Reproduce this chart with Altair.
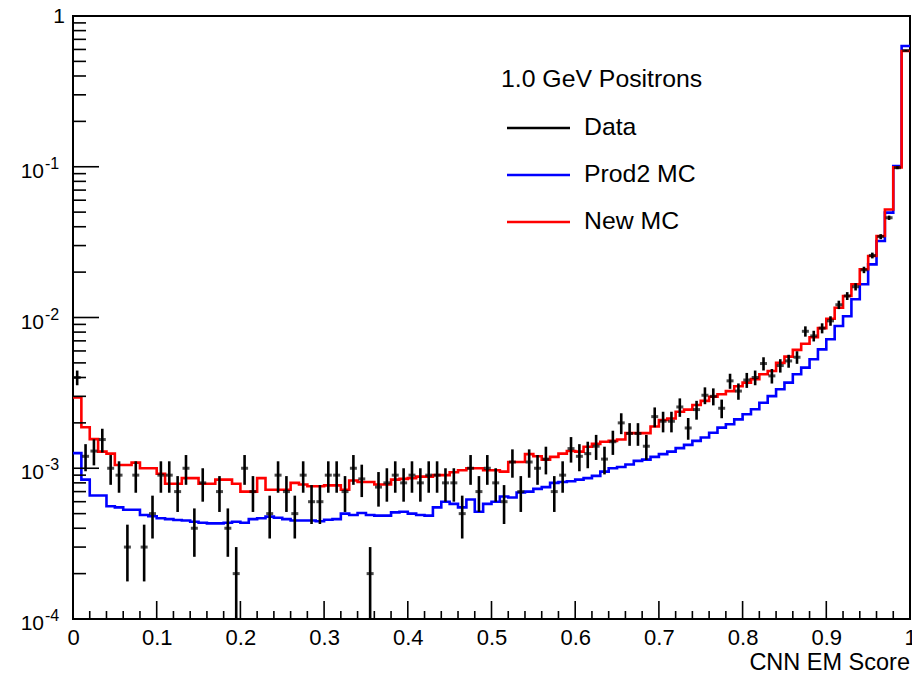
import altair as alt
import pandas as pd

# ---- histogram contents (100 bins on [0, 1]) ----
N_EVENTS = 20000
N_BINS = 100

# beam data: raw counts per bin (area-normalised by N_EVENTS)
data_counts = [
    80, 24, 26, 31, 20, 18, 6, 18, 6, 10,
    18, 18, 14, 20, 8, 16, 0, 14, 8, 4,
    20, 14, 0, 10, 18, 14, 10, 18, 12, 12,
    18, 18, 14, 20, 17, 4, 15, 16, 18, 16,
    18, 16, 18, 18, 16, 16, 10, 20, 14, 20,
    16, 12, 22, 14, 22, 20, 23, 14, 18, 27,
    24, 25, 28, 23, 30, 40, 34, 34, 28, 44,
    41, 41, 51, 37, 49, 61, 60, 50, 76, 65,
    77, 80, 99, 82, 96, 103, 109, 162, 151, 170,
    190, 243, 278, 320, 414, 516, 688, 918, 1972, 11800,
]

prod2_mc = [
    1.26e-3, 8.4e-4, 6.6e-4, 6.6e-4, 5.6e-4, 5.5e-4, 5.3e-4, 5.3e-4, 4.9e-4, 4.8e-4,
    4.66e-4, 4.6e-4, 4.54e-4, 4.5e-4, 4.42e-4, 4.35e-4, 4.31e-4, 4.31e-4, 4.35e-4, 4.42e-4,
    4.35e-4, 4.6e-4, 4.66e-4, 4.78e-4, 4.7e-4, 4.6e-4, 4.5e-4, 4.5e-4, 4.5e-4, 4.45e-4,
    4.55e-4, 4.6e-4, 5.0e-4, 4.9e-4, 5.05e-4, 4.9e-4, 4.85e-4, 4.85e-4, 5.1e-4, 5.15e-4,
    5.0e-4, 4.9e-4, 4.85e-4, 5.5e-4, 6.0e-4, 5.8e-4, 5.5e-4, 6.2e-4, 5.15e-4, 5.8e-4,
    6.0e-4, 6.5e-4, 6.4e-4, 6.9e-4, 7.0e-4, 7.3e-4, 7.5e-4, 8.0e-4, 8.1e-4, 8.2e-4,
    8.4e-4, 8.6e-4, 8.9e-4, 9.5e-4, 1.0e-3, 1.02e-3, 1.06e-3, 1.12e-3, 1.14e-3, 1.19e-3,
    1.24e-3, 1.29e-3, 1.36e-3, 1.43e-3, 1.52e-3, 1.60e-3, 1.72e-3, 1.86e-3, 1.96e-3, 2.11e-3,
    2.28e-3, 2.46e-3, 2.72e-3, 3.01e-3, 3.34e-3, 3.70e-3, 4.20e-3, 4.65e-3, 5.28e-3, 6.15e-3,
    7.17e-3, 8.79e-3, 1.02e-2, 1.32e-2, 1.66e-2, 2.25e-2, 3.22e-2, 4.96e-2, 0.101, 0.632,
]

new_mc = [
    2.95e-3, 1.87e-3, 1.56e-3, 1.29e-3, 1.25e-3, 1.05e-3, 1.05e-3, 1.09e-3, 1.0e-3, 1.0e-3,
    9.2e-4, 7.9e-4, 7.9e-4, 8.6e-4, 8.6e-4, 7.9e-4, 7.9e-4, 8.4e-4, 8.4e-4, 7.9e-4,
    7.0e-4, 7.0e-4, 8.6e-4, 7.2e-4, 7.2e-4, 7.2e-4, 8.0e-4, 7.8e-4, 7.6e-4, 7.6e-4,
    7.7e-4, 7.7e-4, 7.2e-4, 8.3e-4, 8.1e-4, 8.1e-4, 7.8e-4, 7.8e-4, 8.4e-4, 8.5e-4,
    8.6e-4, 8.8e-4, 8.8e-4, 9.0e-4, 9.0e-4, 9.4e-4, 9.7e-4, 1.0e-3, 1.0e-3, 9.7e-4,
    9.7e-4, 9.5e-4, 1.10e-3, 1.10e-3, 1.24e-3, 1.20e-3, 1.14e-3, 1.19e-3, 1.25e-3, 1.30e-3,
    1.29e-3, 1.39e-3, 1.45e-3, 1.50e-3, 1.52e-3, 1.55e-3, 1.71e-3, 1.71e-3, 1.71e-3, 1.89e-3,
    2.09e-3, 2.14e-3, 2.37e-3, 2.45e-3, 2.63e-3, 2.80e-3, 2.98e-3, 3.1e-3, 3.25e-3, 3.5e-3,
    3.7e-3, 3.9e-3, 4.2e-3, 4.42e-3, 5.0e-3, 5.5e-3, 6.1e-3, 6.7e-3, 7.4e-3, 8.5e-3,
    9.8e-3, 1.16e-2, 1.39e-2, 1.66e-2, 2.09e-2, 2.56e-2, 3.47e-2, 5.2e-2, 9.9e-2, 0.586,
]

# ---- axis and legend text ----
x_major = [0, 0.1, 0.2, 0.3, 0.4, 0.5, 0.6, 0.7, 0.8, 0.9, 1]
x_minor = [round(i * 0.02, 2) for i in range(51) if i % 5]
y_exponents = [-1, -2, -3, -4]
y_minor = [m * 10.0 ** e for e in (-4, -3, -2, -1) for m in range(2, 10)]
x_title = "CNN EM Score"
legend_title = "1.0 GeV Positrons"
series_names = ["Data", "Prod2 MC", "New MC"]
series_colors = ["#000000", "#0000ff", "#ff0000"]

W, H = 837, 603
FONT = "Liberation Sans"

xscale = alt.Scale(domain=[0, 1], nice=False, zero=False)
yscale = alt.Scale(type="log", domain=[1e-4, 1], nice=False)
xaxis = alt.Axis(values=x_major, format="~g", ticks=False, domain=False, grid=False,
                 labelFontSize=22, labelFont=FONT, labelColor="black", labelPadding=8,
                 labelFlush=False, labelOverlap=False, labelBound=False, title=None)


def xq(field):
    return alt.X(field, type="quantitative", scale=xscale, axis=xaxis)


def yq(field):
    return alt.Y(field, type="quantitative", scale=yscale, axis=None)


# ---- step histograms ----
edges = [i / N_BINS for i in range(N_BINS + 1)]
centers = [(i + 0.5) / N_BINS for i in range(N_BINS)]


def step_layer(values, color):
    df = pd.DataFrame({"x": edges, "y": list(values) + [values[-1]]})
    return alt.Chart(df).mark_line(interpolate="step-after", color=color,
                                   strokeWidth=2.6, clip=True).encode(x=xq("x"), y=yq("y"))


blue = step_layer(prod2_mc, series_colors[1])
red = step_layer(new_mc, series_colors[2])

# ---- data points with Poisson errors ----
pts = pd.DataFrame({"c": centers, "k": data_counts})
pts = pts[pts.k > 0].copy()
pts["v"] = pts.k / N_EVENTS
pts["lo"] = (pts.k - pts.k ** 0.5) / N_EVENTS
pts["hi"] = (pts.k + pts.k ** 0.5) / N_EVENTS

err = alt.Chart(pts).mark_rule(color="black", strokeWidth=2.6, clip=True).encode(
    x=xq("c"), y=yq("lo"), y2="hi")
mark = alt.Chart(pts).mark_tick(orient="horizontal", size=7, thickness=3,
                                color="black").encode(x=xq("c"), y=yq("v"))

# ---- inward ticks ----
xmaj = alt.Chart(pd.DataFrame({"t": x_major})).mark_rule(color="black", strokeWidth=1.6).encode(
    x=xq("t"), y=alt.value(H), y2=alt.value(H - 18))
xmin = alt.Chart(pd.DataFrame({"t": x_minor})).mark_rule(color="black", strokeWidth=1.6).encode(
    x=xq("t"), y=alt.value(H), y2=alt.value(H - 8))
ymaj = alt.Chart(pd.DataFrame({"t": [10.0 ** e for e in y_exponents]})).mark_rule(
    color="black", strokeWidth=1.6).encode(y=yq("t"), x=alt.value(0), x2=alt.value(26))
ymin = alt.Chart(pd.DataFrame({"t": y_minor})).mark_rule(
    color="black", strokeWidth=1.6).encode(y=yq("t"), x=alt.value(0), x2=alt.value(13))

# ---- y labels written as 10^n ----
ylab = pd.DataFrame({"t": [10.0 ** e for e in y_exponents],
                     "sup": ["-%d" % -e for e in y_exponents]})
ybase = alt.Chart(ylab).mark_text(align="right", baseline="middle", dy=5, fontSize=21,
                                  font=FONT, color="black").encode(
    x=alt.value(-29), y=yq("t"), text=alt.value("10"))
ysup = alt.Chart(ylab).mark_text(align="left", baseline="middle", dy=-3, fontSize=16,
                                 font=FONT, color="black").encode(
    x=alt.value(-28), y=yq("t"), text="sup:N")
yone = alt.Chart(pd.DataFrame({"t": [1.0]})).mark_text(
    align="right", baseline="middle", dy=1, fontSize=21, font=FONT, color="black").encode(
    x=alt.value(-8), y=yq("t"), text=alt.value("1"))

xtitle = alt.Chart(pd.DataFrame({"a": [0]})).mark_text(
    align="right", baseline="middle", fontSize=23.5, font=FONT, color="black").encode(
    x=alt.value(W), y=alt.value(H + 44), text=alt.value(x_title))

# ---- legend ----
leg = [alt.Chart(pd.DataFrame({"a": [0]})).mark_text(
    align="left", baseline="middle", fontSize=24.8, font=FONT, color="black").encode(
    x=alt.value(428), y=alt.value(64), text=alt.value(legend_title))]
for i, (name, col) in enumerate(zip(series_names, series_colors)):
    ypix = 112 + 47 * i
    leg.append(alt.Chart(pd.DataFrame({"a": [0]})).mark_rule(color=col, strokeWidth=2.6).encode(
        x=alt.value(434), x2=alt.value(497), y=alt.value(ypix)))
    leg.append(alt.Chart(pd.DataFrame({"a": [0]})).mark_text(
        align="left", baseline="middle", fontSize=24.8, font=FONT, color="black").encode(
        x=alt.value(511), y=alt.value(ypix), text=alt.value(name)))

chart = alt.layer(
    blue, red, err, mark, xmaj, xmin, ymaj, ymin, ybase, ysup, yone, xtitle, *leg
).properties(
    width=W, height=H, autosize="none",
    padding={"left": 73, "top": 16, "right": 2, "bottom": 56},
    background="white",
).configure_view(stroke="black", strokeWidth=2)

chart.save("out.html", embed_options={"renderer": "svg", "actions": False})
